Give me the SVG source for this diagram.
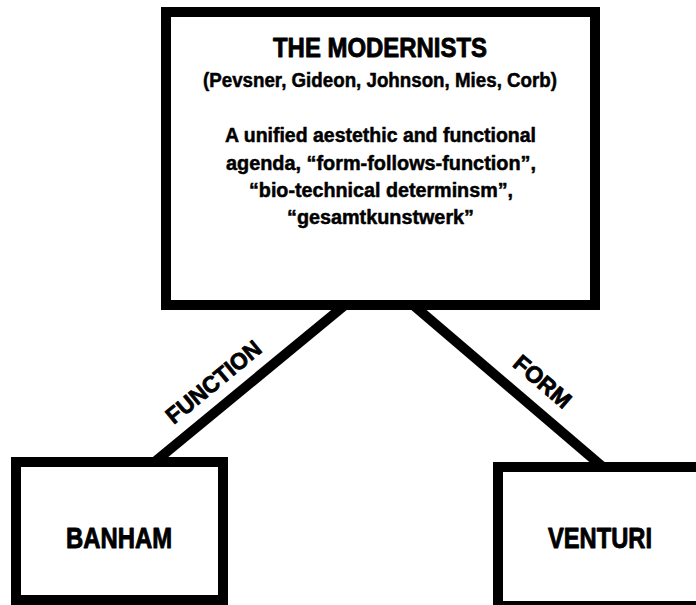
<svg xmlns="http://www.w3.org/2000/svg" width="696" height="605" viewBox="0 0 696 605">
<style>
.box{fill:#fff;stroke:#000;stroke-width:10}
.edge{stroke:#000;stroke-width:10;stroke-linecap:butt;fill:none}
text{font-family:"Liberation Sans Narrow","Liberation Sans",Arial,sans-serif;font-weight:bold;fill:#000;text-anchor:middle;stroke:#000;stroke-linejoin:round}
.t{font-size:28px;stroke-width:0.9px}
.s{font-size:20px;stroke-width:0.5px}
.n{font-size:29px;stroke-width:0.9px}
.l{font-size:23px;stroke-width:0.8px}
</style>
<rect width="696" height="605" fill="#fff"/>
<g id="connectors">
<line class="edge" x1="348.7" y1="302" x2="154.5" y2="462"/>
<line class="edge" x1="409.6" y1="302" x2="602.8" y2="467"/>
<text class="l" transform="translate(213.5,382) rotate(-39.5)" x="0" y="8" textLength="116" lengthAdjust="spacingAndGlyphs">FUNCTION</text>
<text class="l" transform="translate(542.5,381.5) rotate(40.5)" x="0" y="8" textLength="68" lengthAdjust="spacingAndGlyphs">FORM</text>
</g>
<g id="modernists">
<rect class="box" x="166" y="12" width="429" height="293"/>
<text class="t" x="380" y="57" textLength="214" lengthAdjust="spacingAndGlyphs">THE MODERNISTS</text>
<text class="s" x="380" y="87" textLength="354" lengthAdjust="spacingAndGlyphs">(Pevsner, Gideon, Johnson, Mies, Corb)</text>
<text class="s" x="380.5" y="142" textLength="311" lengthAdjust="spacingAndGlyphs">A unified aestethic and functional</text>
<text class="s" x="381" y="170" textLength="310" lengthAdjust="spacingAndGlyphs">agenda, “form-follows-function”,</text>
<text class="s" x="381" y="197" textLength="264" lengthAdjust="spacingAndGlyphs">“bio-technical determinsm”,</text>
<text class="s" x="380.5" y="224" textLength="187" lengthAdjust="spacingAndGlyphs">“gesamtkunstwerk”</text>
</g>
<g id="banham">
<rect class="box" x="16" y="462" width="207" height="138"/>
<text class="n" x="119" y="548" textLength="106" lengthAdjust="spacingAndGlyphs">BANHAM</text>
</g>
<g id="venturi">
<rect class="box" x="498" y="467" width="220" height="139"/>
<text class="n" x="600" y="548" textLength="104" lengthAdjust="spacingAndGlyphs">VENTURI</text>
</g>
</svg>
